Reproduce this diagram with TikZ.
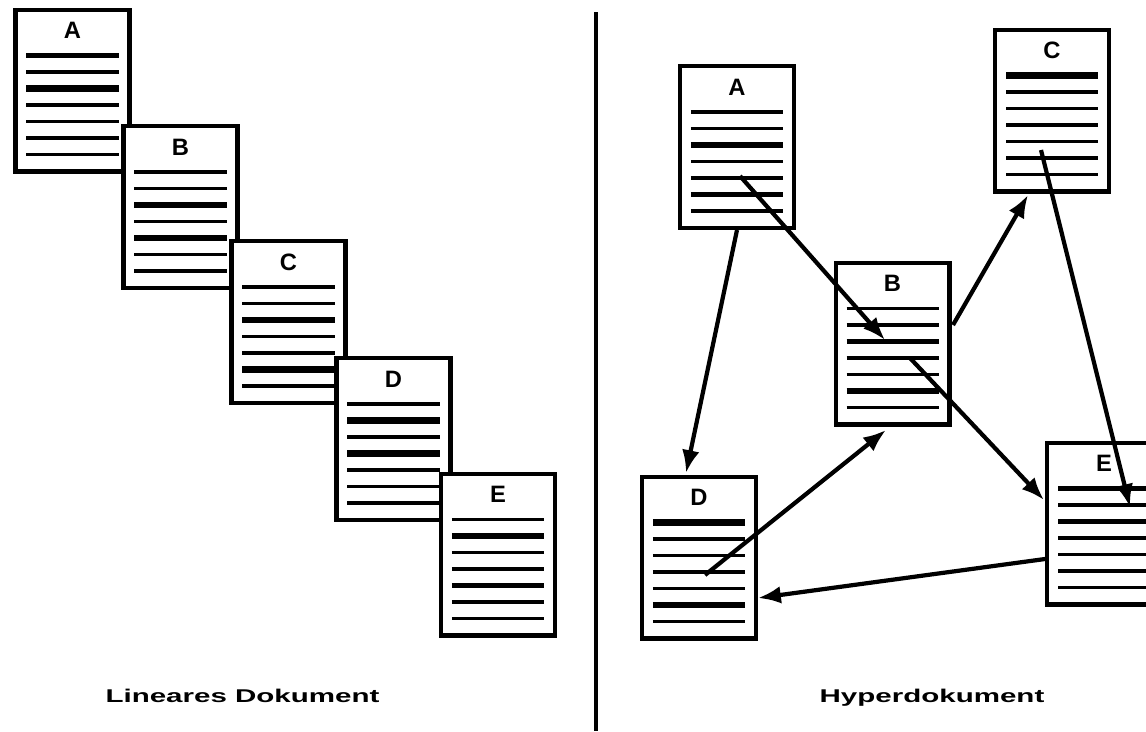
\documentclass[tikz,border=0pt]{standalone}
\usepackage{fontspec}
\setmainfont{Liberation Sans}
\usetikzlibrary{calc,arrows.meta}
\tikzset{
   page/.style={draw=black, line width=2.3pt, fill=white, minimum width=2.28cm,
                minimum height=3.24cm, inner sep=0pt},
   pagetitle/.style={font=\fontsize{13.5}{16}\selectfont\bfseries, inner sep=0pt},
   textline/.style={line cap=butt},
   link/.style={-{Latex[length=13pt,width=10pt]}, line width=2.4pt},
   divider/.style={line width=2.5pt},
   caption/.style={font=\fontsize{10.5}{12}\selectfont\bfseries, anchor=base, inner sep=0pt}
}
% one sheet: name, centre, letter, widths of its seven text lines
\newcommand{\docpage}[4]{%
  \node[page] (#1) at (#2) {};
  \node[pagetitle] (#1-title) at ($(#1.north)+(0,23)$) {#3};
  \foreach \w [count=\i] in {#4}
    \draw[textline, line width=\w*1.8pt] ($(#1.north west)+(13,31.5+16.5*\i)$)
       -- ($(#1.north east)+(-13,31.5+16.5*\i)$);
}

\begin{document}
\begin{tikzpicture}[x=0.02cm,y=-0.02cm]
  \useasboundingbox (0,0) rectangle (1146,731);
  \clip (0,0) rectangle (1146,731);

  % linear document
  \docpage{la}{72.5,90.5}{A}{1.5,1,2,1,1,1,1}
  \docpage{lb}{180.5,207}{B}{1,1,2,1,2,1,1}
  \docpage{lc}{288.5,322}{C}{1.5,1,2,1,1,2,1}
  \docpage{ld}{393.5,439}{D}{1,2,1,2,1,1,1}
  \docpage{le}{498,554.5}{E}{1,2,1,1,1.5,1,1}
  \node[caption] (lcap) at (242.5,702) {\scalebox{1.6}[1]{Lineares Dokument}};

  \coordinate (sep-top) at (596,12);
  \coordinate (sep-bottom) at (596,731);
  \draw[divider] (sep-top) -- (sep-bottom);

  % hyperdocument
  \docpage{ha}{737,147}{A}{1.5,1,2,1,1,1.5,1}
  \docpage{hb}{892.5,343.5}{B}{1,1,1.5,1,1,2,1}
  \docpage{hc}{1052,110.5}{C}{2,1,1,1,1,1.5,1}
  \docpage{hd}{699,557.5}{D}{2,1,1,1,1,2,1}
  \docpage{he}{1104,523.5}{E}{1.5,1,1.5,1,1,1,1}
  \node[caption] (hcap) at (932,702) {\scalebox{1.6}[1]{Hyperdokument}};

  \coordinate (ha-link) at (740,176);
  \coordinate (hb-in) at (885,340);
  \coordinate (hb-link) at (910,358);
  \coordinate (he-in) at (1044,500);
  \coordinate (hd-top) at (686,473);
  \coordinate (hb-out) at (953,325);
  \coordinate (hc-in) at (1028,195);
  \coordinate (hc-link) at (1041,150);
  \coordinate (he-mark) at (1130,507);
  \coordinate (hd-link) at (705,575);
  \coordinate (hb-bottom) at (886,430);
  \coordinate (he-out) at (1045,559);
  \coordinate (hd-in) at (758,598);

  \draw[link] (ha-link) -- (hb-in);
  \draw[link] (hb-link) -- (he-in);
  \draw[link] (ha.south) -- (hd-top);
  \draw[link] (hb-out) -- (hc-in);
  \draw[link] (hc-link) -- (he-mark);
  \draw[link] (hd-link) -- (hb-bottom);
  \draw[link] (he-out) -- (hd-in);
\end{tikzpicture}
\end{document}
